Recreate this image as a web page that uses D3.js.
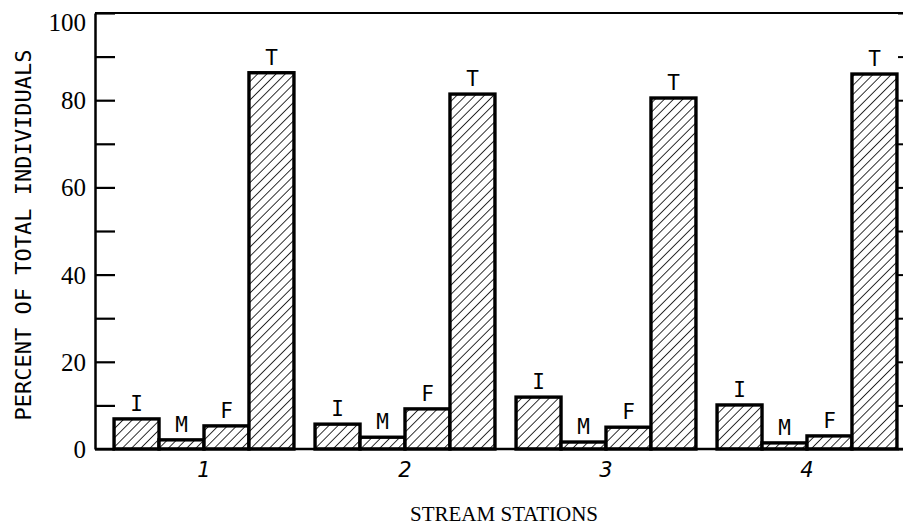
<!DOCTYPE html>
<html>
<head>
<meta charset="utf-8">
<script src="https://cdn.jsdelivr.net/npm/d3@7"></script>
<style>
  html, body { margin: 0; padding: 0; background: #fff; }
  svg { display: block; }
</style>
</head>
<body>
<svg id="chart" width="903" height="526"></svg>
<script>
// ---- data ----
const stations = ["1", "2", "3", "4"];
const groups = ["I", "M", "F", "T"];
const valuesI = [6.9, 5.7, 11.9, 10.1];
const valuesM = [2.1, 2.7, 1.6, 1.4];
const valuesF = [5.3, 9.2, 5.0, 3.0];
const valuesT = [86.3, 81.4, 80.5, 86.0];
const yTickLabels = [0, 20, 40, 60, 80, 100];
const yMinorTicks = [10, 30, 50, 70, 90];
const xTitle = "STREAM STATIONS";
const yTitle = "PERCENT OF TOTAL INDIVIDUALS";

const series = { I: valuesI, M: valuesM, F: valuesF, T: valuesT };
const rows = [];
stations.forEach((s, i) => groups.forEach(g => rows.push({ station: s, group: g, value: series[g][i] })));

// ---- layout ----
const svg = d3.select("#chart");
const padL = 95, padR = 903, padT = 13, padB = 449;

const y = d3.scaleLinear().domain([0, 100]).range([padB, padT]);
const x0 = d3.scaleBand().domain(stations).range([103.5, 907.5]).paddingInner(0.105).paddingOuter(0.0525);
const x1 = d3.scaleBand().domain(groups).range([0, x0.bandwidth()]).padding(0);

// hatch pattern
const defs = svg.append("defs");
const pat = defs.append("pattern")
  .attr("id", "hatch")
  .attr("patternUnits", "userSpaceOnUse")
  .attr("width", 6.5).attr("height", 6.5)
  .attr("patternTransform", "rotate(45)");
pat.append("rect").attr("width", 6.5).attr("height", 6.5).attr("fill", "#fff");
pat.append("line").attr("x1", 0).attr("y1", 0).attr("x2", 0).attr("y2", 6.5)
  .attr("stroke", "#000").attr("stroke-width", 1.6);

// frame: top line
svg.append("line").attr("x1", padL).attr("x2", padR).attr("y1", padT).attr("y2", padT)
  .attr("stroke", "#000").attr("stroke-width", 2.2);

// bars
const gBars = svg.append("g");
gBars.selectAll("rect").data(rows).join("rect")
  .attr("x", d => x0(d.station) + x1(d.group))
  .attr("y", d => y(d.value))
  .attr("width", x1.bandwidth())
  .attr("height", d => y(0) - y(d.value))
  .attr("fill", "url(#hatch)")
  .attr("stroke", "#000")
  .attr("stroke-width", 3.4)
  .attr("stroke-linejoin", "miter");

// bar labels
gBars.selectAll("text").data(rows).join("text")
  .attr("x", d => x0(d.station) + x1(d.group) + x1.bandwidth() / 2)
  .attr("y", d => y(d.value) - 8)
  .attr("text-anchor", "middle")
  .attr("font-family", "DejaVu Sans Mono")
  .attr("font-size", 21)
  .attr("fill", "#000")
  .text(d => d.group);

// left axis (ticks pointing inward)
const yAxisL = d3.axisRight(y)
  .tickValues(yTickLabels.concat(yMinorTicks).sort((a, b) => a - b))
  .tickSize(20).tickSizeOuter(0).tickFormat("");
const gL = svg.append("g").attr("transform", `translate(${padL},0)`).call(yAxisL);
gL.select(".domain").attr("stroke-width", 2.5);
gL.selectAll(".tick line").attr("stroke-width", 2.2);

// left tick labels
svg.append("g").selectAll("text").data(yTickLabels).join("text")
  .attr("x", 86)
  .attr("y", d => Math.max(y(d), 22))
  .attr("dy", "0.36em")
  .attr("text-anchor", "end")
  .attr("font-family", "Liberation Sans Narrow")
  .attr("font-size", 25)
  .attr("fill", "#000")
  .text(d => d);

// right axis (off the visible edge, ticks inward)
const yAxisR = d3.axisLeft(y)
  .tickValues(yTickLabels.concat(yMinorTicks))
  .tickSize(6).tickSizeOuter(0).tickFormat("");
const gR = svg.append("g").attr("transform", "translate(904,0)").call(yAxisR);
gR.select(".domain").attr("stroke-width", 2.5);
gR.selectAll(".tick line").attr("stroke-width", 2);

// bottom axis
const xAxis = d3.axisBottom(x0).tickSize(0).tickSizeOuter(0);
const gB = svg.append("g").attr("transform", `translate(0,${padB})`).call(xAxis);
gB.select(".domain").attr("d", `M${padL},0H${padR}`).attr("stroke-width", 2.5);
gB.selectAll(".tick text")
  .attr("y", 28)
  .attr("dy", 0)
  .attr("font-family", "DejaVu Sans")
  .attr("font-style", "italic")
  .attr("font-size", 21)
  .attr("fill", "#000");

// axis titles
svg.append("text")
  .attr("x", 504).attr("y", 521)
  .attr("text-anchor", "middle")
  .attr("font-family", "Liberation Serif")
  .attr("font-size", 20)
  .attr("textLength", 188)
  .attr("lengthAdjust", "spacingAndGlyphs")
  .attr("fill", "#000")
  .text(xTitle);

svg.append("text")
  .attr("transform", "translate(31,235) rotate(-90)")
  .attr("text-anchor", "middle")
  .attr("font-family", "DejaVu Sans Mono")
  .attr("font-size", 22)
  .attr("fill", "#000")
  .text(yTitle);
</script>
</body>
</html>
